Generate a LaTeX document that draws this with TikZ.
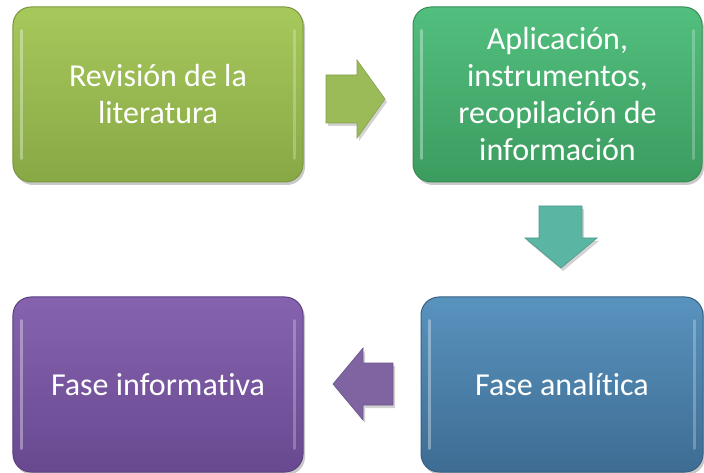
\documentclass[tikz,border=0pt]{standalone}
\usepackage{fontspec}
\setmainfont[Ligatures=NoCommon]{Carlito}
\usetikzlibrary{shadows,calc}
\definecolor{gA}{HTML}{A7C85B}\definecolor{gB}{HTML}{88A846}\definecolor{gE}{HTML}{7A963E}
\definecolor{tA}{HTML}{52BF7E}\definecolor{tB}{HTML}{3C9C5F}\definecolor{tE}{HTML}{358B54}
\definecolor{bA}{HTML}{5893BE}\definecolor{bB}{HTML}{3E6C93}\definecolor{bE}{HTML}{375F82}
\definecolor{pA}{HTML}{8663AE}\definecolor{pB}{HTML}{684990}\definecolor{pE}{HTML}{5C4080}
\definecolor{arG}{HTML}{9BBB59}\definecolor{arT}{HTML}{5AB5A3}\definecolor{arP}{HTML}{8064A2}
\tikzset{
  box/.style={rounded corners=18bp, minimum height=175bp, text=white, align=center,
    font=\fontsize{32bp}{37bp}\selectfont, inner sep=0pt, line width=1bp,
    drop shadow={shadow xshift=2bp, shadow yshift=-3bp, opacity=0.3, fill=black!70}},
  blockarrow/.style={line width=0.8bp, drop shadow={shadow xshift=2bp, shadow yshift=-3bp, opacity=0.25, fill=black!70}},
  bevel/.style={white, opacity=0.35, line width=3bp, line cap=round}
}
\begin{document}
\begin{tikzpicture}[x=1bp,y=-1bp]
\useasboundingbox (0,0) rectangle (704,473);
\node[box, minimum width=290bp, top color=gA, bottom color=gB, draw=gE] (b1) at (158,94.5) {Revisión de la\\literatura};
\node[box, minimum width=289bp, top color=tA, bottom color=tB, draw=tE] (b2) at (557.5,94.5) {Aplicación,\\instrumentos,\\recopilación de\\información};
\node[box, minimum width=282bp, top color=bA, bottom color=bB, draw=bE] (b3) at (562,384.5) {Fase analítica};
\node[box, minimum width=290bp, top color=pA, bottom color=pB, draw=pE] (b4) at (158,384.5) {Fase informativa};
\foreach \b in {b1,b2,b3,b4}{
  \draw[bevel] ($(\b.north west)+(9,24)$) -- ($(\b.south west)+(9,-24)$);
  \draw[bevel, opacity=0.25] ($(\b.north east)+(-9,24)$) -- ($(\b.south east)+(-9,-24)$);
}
% right arrow
\coordinate (ra) at (385,99);
\fill[arG, blockarrow] (326,75) -- (357,75) -- (357,60) -- (ra) -- (357,138) -- (357,123) -- (326,123) -- cycle;
\draw[arG!85!black, line width=0.6bp] (326,75) -- (357,75) -- (357,60) -- (ra) -- (357,138) -- (357,123) -- (326,123) -- cycle;
% down arrow
\coordinate (da) at (561,268);
\fill[arT, blockarrow] (539,206) -- (582,206) -- (582,238) -- (597,238) -- (da) -- (525,238) -- (539,238) -- cycle;
\draw[arT!85!black, line width=0.6bp] (539,206) -- (582,206) -- (582,238) -- (597,238) -- (da) -- (525,238) -- (539,238) -- cycle;
% left arrow
\coordinate (la) at (333,384);
\fill[arP, blockarrow] (393,363) -- (363,363) -- (363,348) -- (la) -- (363,420) -- (363,405) -- (393,405) -- cycle;
\draw[arP!85!black, line width=0.6bp] (393,363) -- (363,363) -- (363,348) -- (la) -- (363,420) -- (363,405) -- (393,405) -- cycle;
\end{tikzpicture}
\end{document}
